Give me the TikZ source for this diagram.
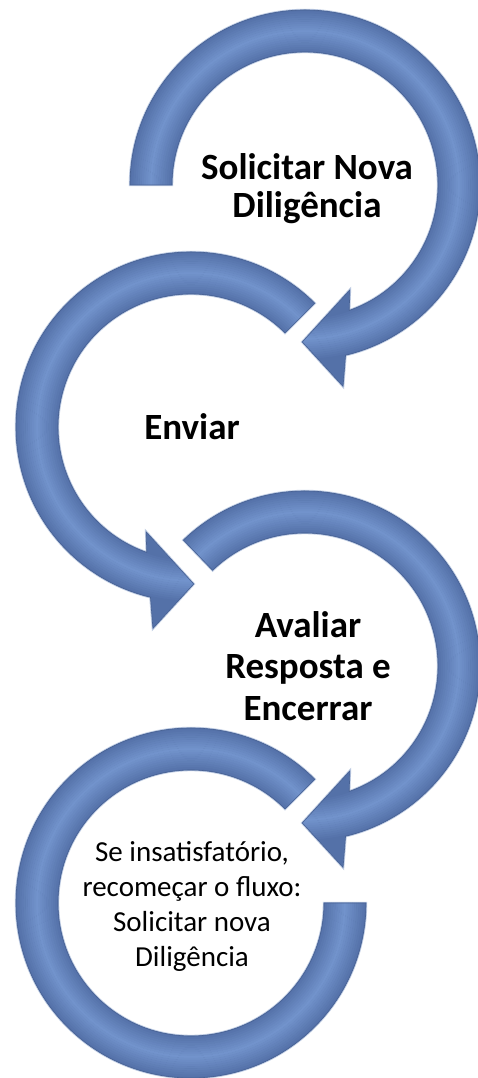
\documentclass[tikz,border=0pt]{standalone}
\usepackage{fontspec}
\setmainfont{Carlito}
\definecolor{arrowedge}{RGB}{84,113,168}
\definecolor{arrowmid}{RGB}{114,147,204}
\definecolor{arrowline}{RGB}{72,98,148}
\definecolor{arrowglow}{RGB}{160,180,214}
\tikzset{
  circarrow/.style={draw=arrowline, line width=0.6pt, line join=round,
    preaction={draw=arrowglow, line width=2.4pt, opacity=0.7},
    path picture={%
      \fill[arrowedge] (0,0) circle (240);
      \foreach \i in {0,...,20}{%
        \pgfmathtruncatemacro\tmix{100-abs(\i-10)*10}%
        \draw[color=arrowmid!\tmix!arrowedge, line width=2.4] (0,0) circle (133+2.1*\i);
      }}},
  boldlabel/.style={font=\bfseries\fontsize{37}{38}\selectfont, align=center, text=black},
  plainlabel/.style={font=\fontsize{29}{35}\selectfont, align=center, text=black}
}
\begin{document}
\begin{tikzpicture}[x=1pt,y=1pt]
\useasboundingbox (0,0) rectangle (477,1078);
\fill[white] (0,0) rectangle (477,1078);

% arrow 1 (top right)
\begin{scope}[shift={(305,893)}]
  \path[circarrow] (180:175) arc[start angle=180,end angle=-76.6,radius=175]
    -- (-79.3:205) -- (-91:157) -- (-66.8:114) -- (-70.6:133)
    arc[start angle=-70.6,end angle=180,radius=133] -- cycle;
\end{scope}

% arrow 2 (left)
\begin{scope}[shift={(191,651)}]
  \path[circarrow] (45:175) arc[start angle=45,end angle=256.6,radius=175]
    -- (259.3:205) -- (271:157) -- (246.8:114) -- (250.6:133)
    arc[start angle=250.6,end angle=45,radius=133] -- cycle;
\end{scope}

% arrow 3 (right)
\begin{scope}[shift={(305,412)}]
  \path[circarrow] (134:175) arc[start angle=134,end angle=-76.6,radius=175]
    -- (-79.3:205) -- (-91:157) -- (-66.8:114) -- (-70.6:133)
    arc[start angle=-70.6,end angle=134,radius=133] -- cycle;
\end{scope}

% arrow 4 (bottom left, no head)
\begin{scope}[shift={(191,175)}]
  \path[circarrow] (45:175) arc[start angle=45,end angle=360,radius=175]
    -- (360:133) arc[start angle=360,end angle=45,radius=133] -- cycle;
\end{scope}

\node[boldlabel] (n1) at (307,889) {Solicitar Nova\\Dilig\^encia};
\node[boldlabel] (n2) at (192,651) {Enviar};
\node[boldlabel, font=\bfseries\fontsize{37}{41.5}\selectfont] (n3) at (308,412) {Avaliar\\Resposta e\\Encerrar};
\node[plainlabel] (n4) at (192,172) {Se insatisfat\'orio,\\recome\c{c}ar o fluxo:\\Solicitar nova\\Dilig\^encia};
\end{tikzpicture}
\end{document}
